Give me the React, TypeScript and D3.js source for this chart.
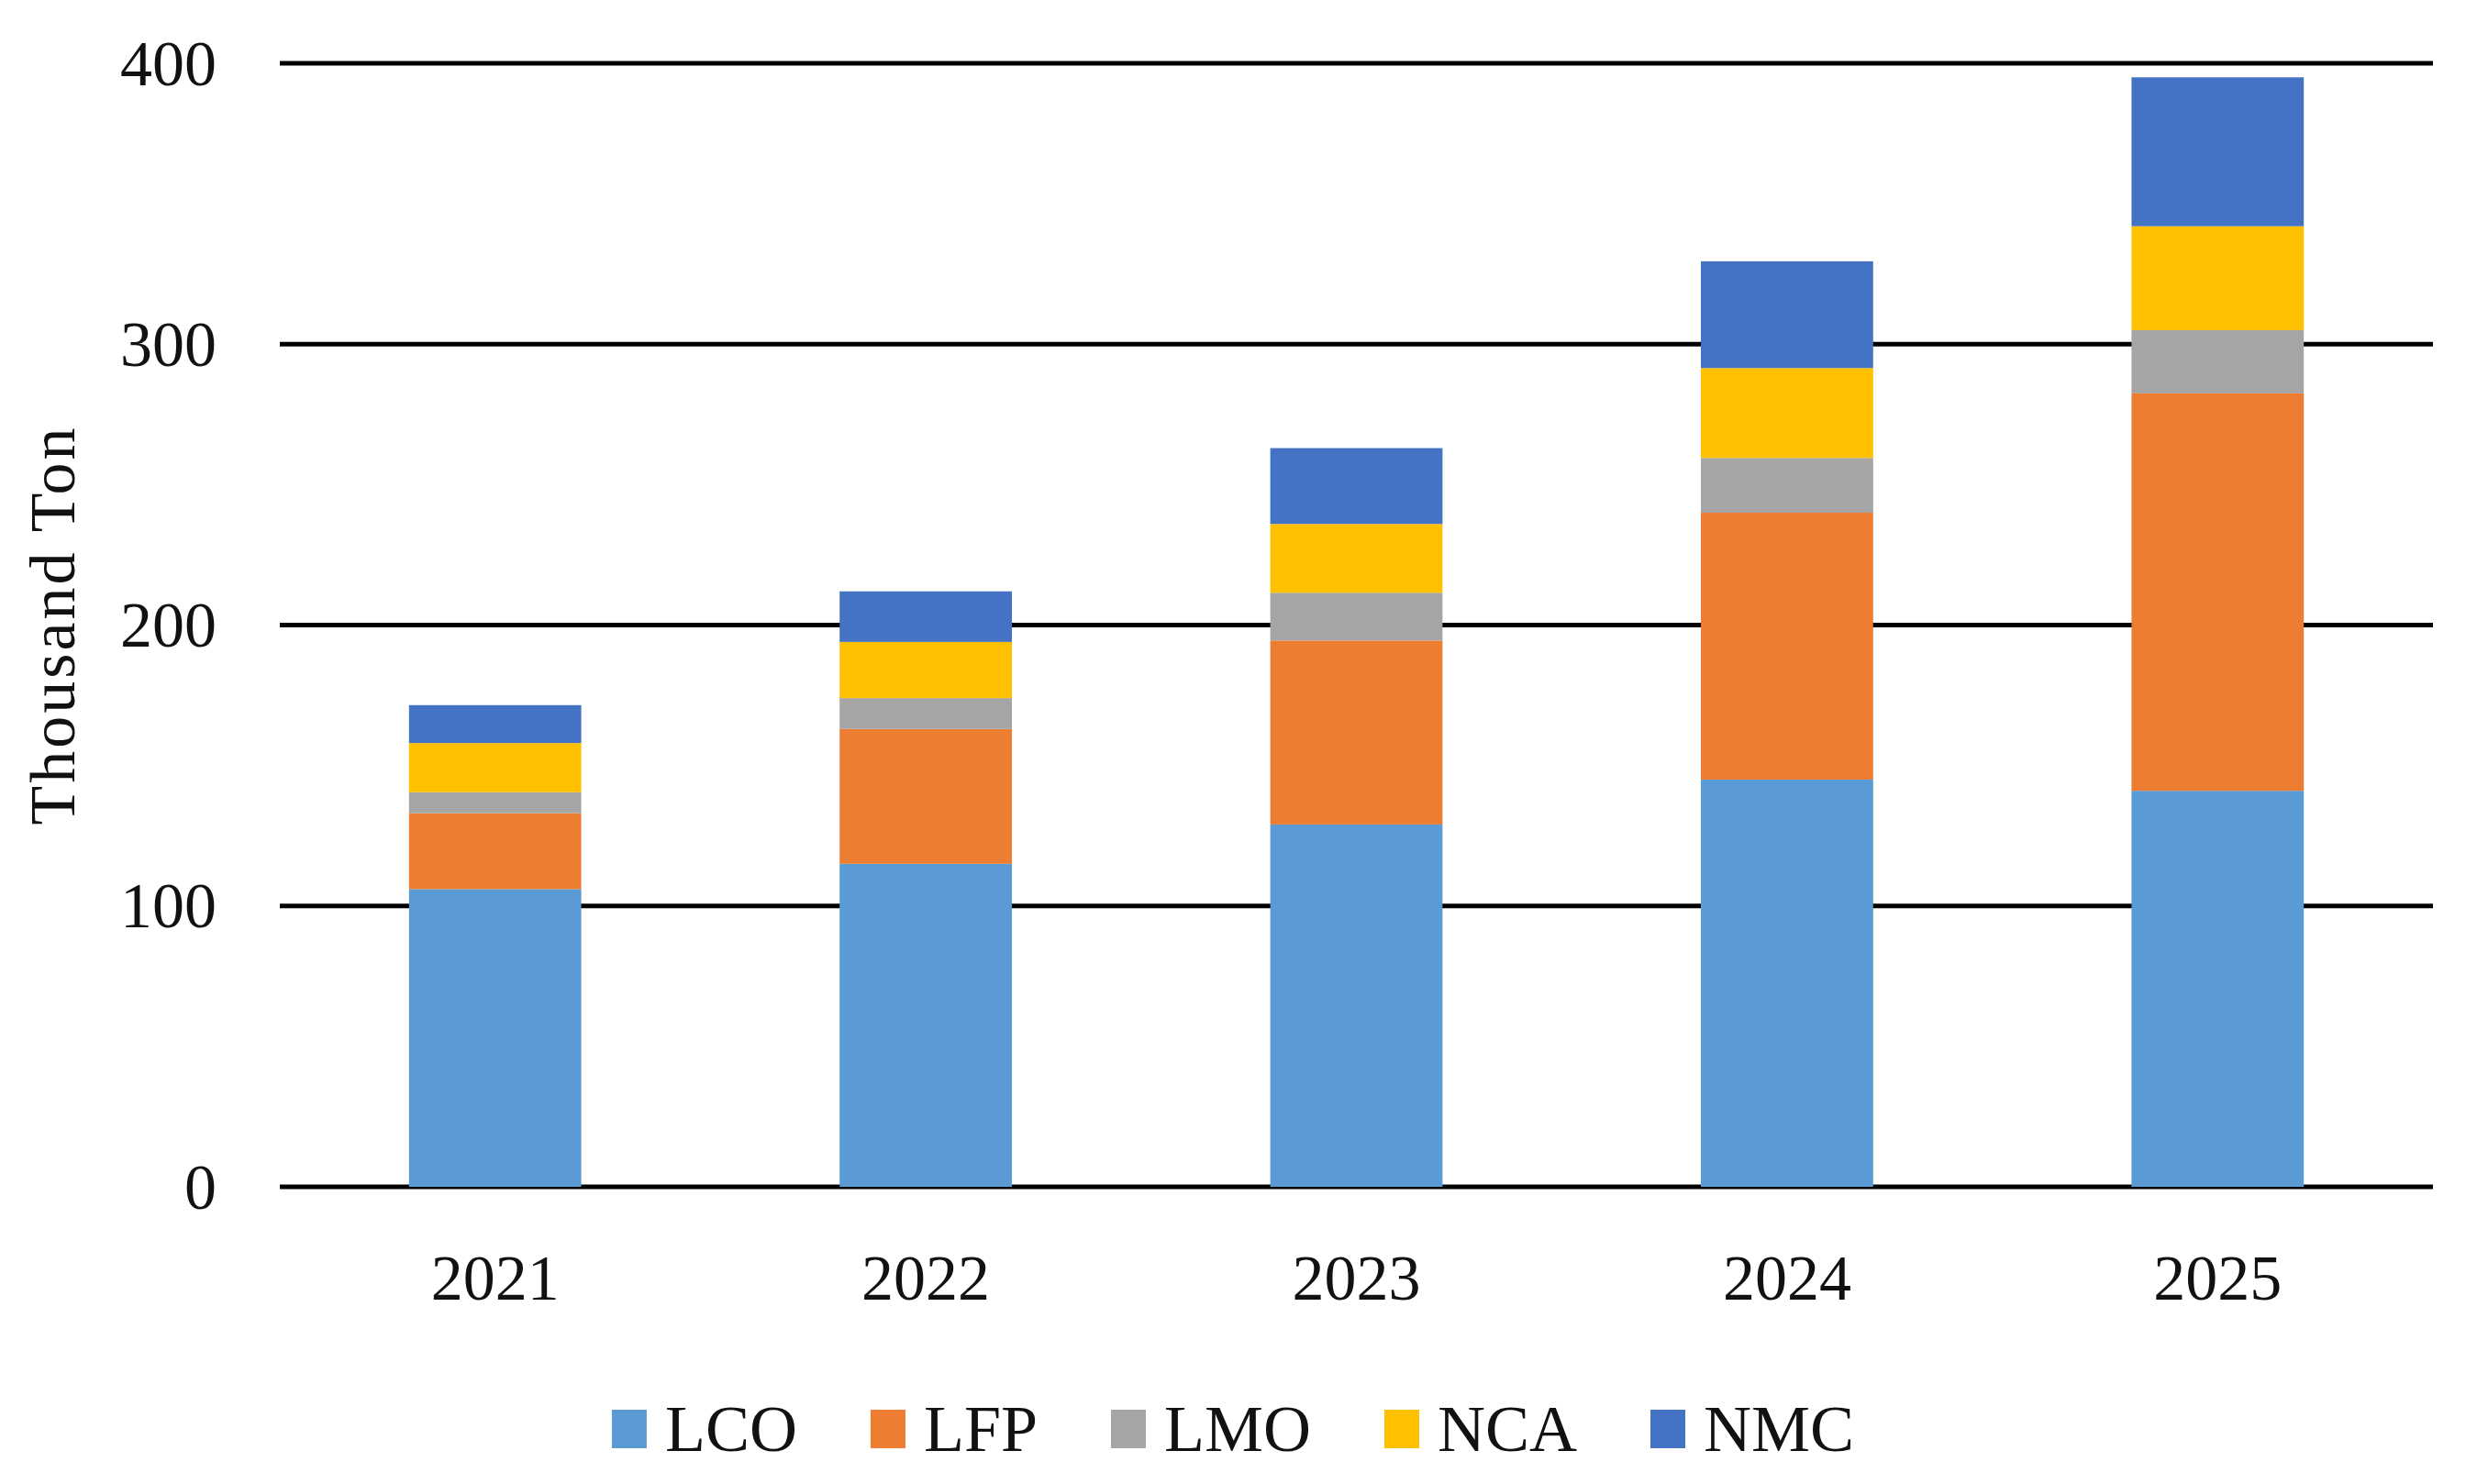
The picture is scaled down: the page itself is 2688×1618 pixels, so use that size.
import * as d3 from "d3"

const years = ["2021", "2022", "2023", "2024", "2025"]
const series = ["LCO", "LFP", "LMO", "NCA", "NMC"]
const LCO = [106, 115, 129, 145, 141]
const LFP = [27, 48, 65.5, 95, 141.5]
const LMO = [7.5, 11, 17, 19.5, 22.5]
const NCA = [17.5, 20, 24.5, 32, 37]
const NMC = [13.5, 18, 27, 38, 53]
const yTicks = [0, 100, 200, 300, 400]
const colors = ["#5B9BD5", "#ED7D31", "#A5A5A5", "#FFC000", "#4472C4"]

const W = 2688
const H = 1618
const FONT = "'Liberation Serif', 'Times New Roman', serif"
const FS = 70
const LFS = 72

function measure(text: string, size: number) {
  const ctx = document.createElement("canvas").getContext("2d")
  if (!ctx) return text.length * size * 0.6
  ctx.font = `${size}px 'Liberation Serif'`
  return ctx.measureText(text).width
}

export default function App() {
  const rows = years.map((y, i) => ({
    year: y,
    LCO: LCO[i],
    LFP: LFP[i],
    LMO: LMO[i],
    NCA: NCA[i],
    NMC: NMC[i],
  }))
  const stacked = d3.stack<any>().keys(series)(rows)

  const x = d3
    .scaleBand()
    .domain(years)
    .range([305, 2652])
    .paddingInner(0.6)
    .paddingOuter(0.3)

  const y = d3.scaleLinear().domain([0, 400]).range([1294, 69])

  // legend layout
  const sq = 38
  const gap = 20
  const itemGap = 80
  const widths = series.map((s) => sq + gap + measure(s, LFS))
  const total = d3.sum(widths) + itemGap * (series.length - 1)
  let cur = W / 2 - total / 2
  const legend = series.map((s, i) => {
    const item = { name: s, x: cur, c: colors[i] }
    cur += widths[i] + itemGap
    return item
  })
  const legY = 1558

  return (
    <svg
      width={W}
      height={H}
      viewBox={`0 0 ${W} ${H}`}
      style={{ position: "absolute", left: 0, top: 0, background: "#fff" }}
      fontFamily={FONT}
      fontSize={FS}
    >
      <rect width={W} height={H} fill="#fff" />
      {yTicks.map((t) => (
        <g key={t}>
          <line x1={305} x2={2652} y1={y(t)} y2={y(t)} stroke="#000" strokeWidth={5} />
          <text x={236} y={y(t)} textAnchor="end" dominantBaseline="central" fill="#111">
            {t}
          </text>
        </g>
      ))}

      {stacked.map((layer, li) => (
        <g key={layer.key} fill={colors[li]}>
          {layer.map((d, i) => (
            <rect
              key={years[i]}
              x={x(years[i])}
              width={x.bandwidth()}
              y={y(d[1])}
              height={y(d[0]) - y(d[1])}
            />
          ))}
        </g>
      ))}

      {years.map((yr) => (
        <text
          key={yr}
          x={(x(yr) || 0) + x.bandwidth() / 2}
          y={1393}
          textAnchor="middle"
          dominantBaseline="central"
          fill="#111"
        >
          {yr}
        </text>
      ))}

      <text
        transform={`translate(57, ${(y(0) + y(400)) / 2}) rotate(-90)`}
        textAnchor="middle"
        dominantBaseline="central"
        fill="#111"
        letterSpacing={3}
      >
        Thousand Ton
      </text>

      {legend.map((l) => (
        <g key={l.name}>
          <rect x={l.x} y={legY - 21} width={sq} height={42} fill={l.c} />
          <text
            x={l.x + sq + gap}
            y={legY}
            dominantBaseline="central"
            fill="#111"
            fontSize={LFS}
          >
            {l.name}
          </text>
        </g>
      ))}
    </svg>
  )
}
